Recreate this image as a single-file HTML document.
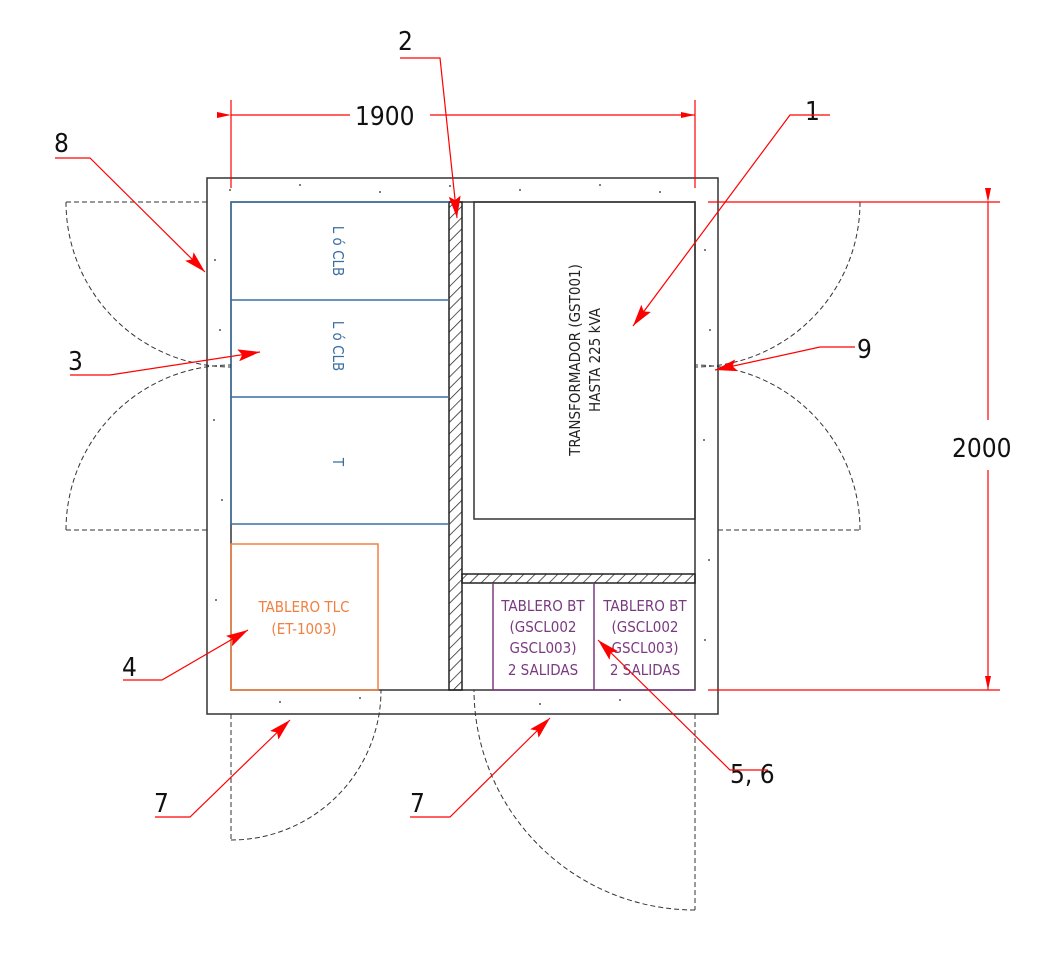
<!DOCTYPE html><html><head><style>body{margin:0;background:#fff}</style></head><body>
<svg width="1039" height="955" xmlns="http://www.w3.org/2000/svg" font-family="DejaVu Sans Condensed, Liberation Sans, sans-serif">
<defs>
<pattern id="h" width="8" height="8" patternUnits="userSpaceOnUse" patternTransform="rotate(45)"><line x1="0" y1="0" x2="0" y2="8" stroke="#222" stroke-width="1.5"/></pattern>
<marker id="a" markerWidth="22" markerHeight="12" refX="22" refY="6" orient="auto" markerUnits="userSpaceOnUse"><path d="M0,0 L22,6 L0,12 L4,6z" fill="red"/></marker>
<marker id="d" markerWidth="14" markerHeight="6" refX="14" refY="3" orient="auto" markerUnits="userSpaceOnUse"><path d="M0,0 L14,3 L0,6z" fill="red"/></marker>
</defs>
<rect x="207" y="178" width="511" height="536" fill="#fff" stroke="#333" stroke-width="1.5"/>
<rect x="231" y="202" width="464" height="488" fill="#fff" stroke="#333" stroke-width="1.5"/>
<g fill="#555">
<circle cx="230" cy="190" r="1"/><circle cx="300" cy="185" r="1"/><circle cx="380" cy="192" r="1"/><circle cx="450" cy="186" r="1"/><circle cx="520" cy="190" r="1"/><circle cx="600" cy="185" r="1"/><circle cx="660" cy="192" r="1"/><circle cx="215" cy="260" r="1"/><circle cx="220" cy="330" r="1"/><circle cx="214" cy="420" r="1"/><circle cx="222" cy="500" r="1"/><circle cx="216" cy="600" r="1"/><circle cx="705" cy="250" r="1"/><circle cx="710" cy="330" r="1"/><circle cx="704" cy="440" r="1"/><circle cx="709" cy="560" r="1"/><circle cx="705" cy="640" r="1"/><circle cx="280" cy="702" r="1"/><circle cx="360" cy="698" r="1"/><circle cx="540" cy="704" r="1"/><circle cx="620" cy="700" r="1"/>
</g>
<rect x="449" y="202" width="13" height="488" fill="url(#h)" stroke="#222" stroke-width="1.5"/>
<rect x="462" y="574" width="233" height="9" fill="url(#h)" stroke="#222" stroke-width="1.5"/>
<rect x="474" y="202" width="221" height="317" fill="none" stroke="#333" stroke-width="1.5"/>
<text transform="translate(580,360) rotate(-90)" text-anchor="middle" font-size="15" fill="#222">TRANSFORMADOR (GST001)</text>
<text transform="translate(600,360) rotate(-90)" text-anchor="middle" font-size="15" fill="#222">HASTA 225 kVA</text>
<g stroke="#3a6fa0" stroke-width="1.5" fill="none">
<line x1="231" y1="202" x2="449" y2="202"/><line x1="231" y1="300" x2="449" y2="300"/><line x1="231" y1="397" x2="449" y2="397"/><line x1="231" y1="524" x2="449" y2="524"/><line x1="231" y1="202" x2="231" y2="524"/>
</g>
<g fill="#3a6fa0" font-size="15">
<text transform="translate(333,251) rotate(90)" text-anchor="middle">L ó CLB</text>
<text transform="translate(333,346) rotate(90)" text-anchor="middle">L ó CLB</text>
<text transform="translate(333,462) rotate(90)" text-anchor="middle">T</text>
</g>
<rect x="231" y="544" width="147" height="146" fill="none" stroke="#f08040" stroke-width="1.5"/>
<text x="304" y="612" text-anchor="middle" font-size="15" fill="#f08040">TABLERO TLC</text>
<text x="304" y="634" text-anchor="middle" font-size="15" fill="#f08040">(ET-1003)</text>
<g stroke="#7a3a80" stroke-width="1.5" fill="none"><line x1="493" y1="583" x2="493" y2="690"/><line x1="594" y1="583" x2="594" y2="690"/><line x1="493" y1="690" x2="695" y2="690"/></g>
<g fill="#7a3a80" font-size="15" text-anchor="middle">
<text x="543" y="611">TABLERO BT</text><text x="543" y="632">(GSCL002</text><text x="543" y="653">GSCL003)</text><text x="543" y="675">2 SALIDAS</text>
<text x="645" y="611">TABLERO BT</text><text x="645" y="632">(GSCL002</text><text x="645" y="653">GSCL003)</text><text x="645" y="675">2 SALIDAS</text>
</g>
<g stroke="#333" stroke-width="1" fill="none" stroke-dasharray="5,3">
<line x1="66" y1="202" x2="207" y2="202"/><path d="M66,202 A165,165 0 0 0 231,367"/>
<line x1="66" y1="530" x2="207" y2="530"/><path d="M66,530 A165,165 0 0 1 231,365"/>
<line x1="718" y1="202" x2="860" y2="202"/><path d="M860,202 A165,165 0 0 1 695,367"/>
<line x1="718" y1="530" x2="860" y2="530"/><path d="M860,530 A165,165 0 0 0 695,365"/>
<line x1="231" y1="714" x2="231" y2="840"/><path d="M231,840 A150,150 0 0 0 381,690"/>
<line x1="695" y1="714" x2="695" y2="910"/><path d="M695,910 A221,221 0 0 1 474,690"/>
</g>
<g stroke="red" stroke-width="1.2" fill="none">
<line x1="231" y1="100" x2="231" y2="188"/><line x1="695" y1="100" x2="695" y2="188"/>
<line x1="231" y1="115" x2="350" y2="115" marker-start="url(#d)"/><line x1="430" y1="115" x2="695" y2="115" marker-end="url(#d)"/>
<line x1="708" y1="202" x2="1000" y2="202"/><line x1="708" y1="690" x2="1000" y2="690"/>
<line x1="988" y1="202" x2="988" y2="420" marker-start="url(#d)"/><line x1="988" y1="470" x2="988" y2="690" marker-end="url(#d)"/>
</g>
<g font-size="26" fill="#111">
<text x="355" y="125">1900</text><text x="952" y="457">2000</text>
<text x="398" y="50">2</text><text x="805" y="120">1</text><text x="54" y="152">8</text><text x="68" y="370">3</text><text x="857" y="358">9</text><text x="122" y="676">4</text><text x="730" y="783">5, 6</text><text x="154" y="812">7</text><text x="410" y="812">7</text>
</g>
<g stroke="red" stroke-width="1.2" fill="none">
<polyline points="400,58 440,58 457,218" marker-end="url(#a)"/>
<polyline points="830,115 790,115 633,326" marker-end="url(#a)"/>
<polyline points="55,158 90,158 205,272" marker-end="url(#a)"/>
<polyline points="70,375 110,375 260,352" marker-end="url(#a)"/>
<polyline points="855,347 820,347 715,370" marker-end="url(#a)"/>
<polyline points="123,680 162,680 248,630" marker-end="url(#a)"/>
<polyline points="768,770 730,770 598,640" marker-end="url(#a)"/>
<polyline points="155,817 190,817 290,720" marker-end="url(#a)"/>
<polyline points="410,817 450,817 550,718" marker-end="url(#a)"/>
</g>
</svg>
</body></html>
